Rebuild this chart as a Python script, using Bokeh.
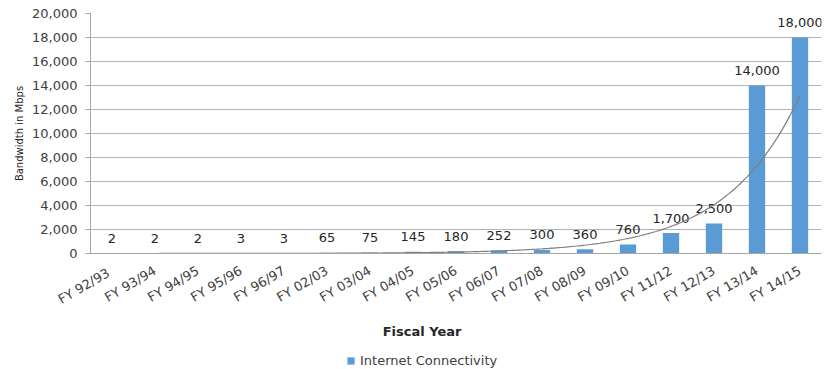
import numpy as np
from bokeh.plotting import figure
from bokeh.layouts import column
from bokeh.models import ColumnDataSource, NumeralTickFormatter, Legend, LegendItem, FactorRange, FixedTicker, Range1d
from bokeh.core.properties import value
from bokeh.embed import file_html
from bokeh.resources import INLINE

years = ["FY  92/93", "FY 93/94", "FY 94/95", "FY 95/96", "FY 96/97", "FY 02/03",
         "FY 03/04", "FY 04/05", "FY 05/06", "FY 06/07", "FY 07/08", "FY 08/09",
         "FY 09/10", "FY 11/12", "FY 12/13", "FY 13/14", "FY 14/15"]
bandwidth = [2, 2, 2, 3, 3, 65, 75, 145, 180, 252, 300, 360, 760, 1700, 2500, 14000, 18000]
value_labels = ["2", "2", "2", "3", "3", "65", "75", "145", "180", "252", "300", "360",
                "760", "1,700", "2,500", "14,000", "18,000"]
y_ticks = [0, 2000, 4000, 6000, 8000, 10000, 12000, 14000, 16000, 18000, 20000]

FONT = "DejaVu Sans"
TXT = "#404040"
BAR = "#5B9BD5"

src = ColumnDataSource(dict(year=years, bw=bandwidth, lab=value_labels))

p = figure(frame_width=731, frame_height=240, x_range=FactorRange(*years, range_padding=0),
           y_range=(0, 20000), output_backend="svg", toolbar_location=None,
           min_border_left=90, min_border_right=14, min_border_top=13, min_border_bottom=92)
p.outline_line_color = None
p.background_fill_color = "white"

bars = p.vbar(x="year", top="bw", width=0.38, source=src, fill_color=BAR, line_color=None)

p.text(x="year", y="bw", text="lab", source=src, text_align="center", text_baseline="middle",
       y_offset=-15, text_font=value(FONT), text_font_size="13px", text_color="#262626")

# exponential trendline fitted to the data (as in the spreadsheet chart)
idx = np.arange(1, len(bandwidth) + 1)
slope, intercept = np.polyfit(idx, np.log(bandwidth), 1)
xs = np.linspace(1, len(bandwidth), 300)
p.line(xs - 0.5, np.exp(intercept + slope * xs), line_color="#7F7F7F", line_width=1.2)

p.yaxis.ticker = FixedTicker(ticks=y_ticks)
p.yaxis.formatter = NumeralTickFormatter(format="0,0")
p.yaxis.major_label_text_font = FONT
p.yaxis.major_label_text_font_size = "13px"
p.yaxis.major_label_text_color = TXT
p.yaxis.major_tick_out = 5
p.yaxis.major_tick_in = 0
p.yaxis.minor_tick_out = 0
p.yaxis.minor_tick_in = 0
p.yaxis.major_label_standoff = 8
p.yaxis.axis_line_color = "#A6A6A6"
p.yaxis.major_tick_line_color = "#A6A6A6"
p.yaxis.axis_label = "Bandwidth in Mbps"
p.yaxis.axis_label_text_font = FONT
p.yaxis.axis_label_text_font_size = "10px"
p.yaxis.axis_label_text_font_style = "normal"
p.yaxis.axis_label_text_color = "#262626"
p.yaxis.axis_label_standoff = 4

p.xaxis.major_label_orientation = 0.53
p.xaxis.major_label_text_font = FONT
p.xaxis.major_label_text_font_size = "13px"
p.xaxis.major_label_text_color = TXT
p.xaxis.major_tick_out = 0
p.xaxis.major_tick_in = 0
p.xaxis.major_label_standoff = 16
p.xaxis.axis_line_color = "#A6A6A6"
p.xaxis.axis_label = "Fiscal  Year" + "\u00a0" * 14
p.xaxis.axis_label_text_font = FONT
p.xaxis.axis_label_text_font_size = "13px"
p.xaxis.axis_label_text_font_style = "bold"
p.xaxis.axis_label_text_color = "#262626"
p.xaxis.axis_label_standoff = 8

p.xgrid.grid_line_color = None
p.ygrid.grid_line_color = "#B3B3B3"
p.ygrid.grid_line_width = 1

# legend strip below the chart (swatch renderer kept outside its visible range)
leg = figure(width=835, height=24, output_backend="svg", toolbar_location=None,
             x_axis_type=None, y_axis_type=None, x_range=Range1d(0, 1), y_range=Range1d(0, 1),
             min_border_left=0, min_border_right=0, min_border_top=0, min_border_bottom=0)
leg.outline_line_color = None
leg.xgrid.grid_line_color = None
leg.ygrid.grid_line_color = None
swatch = leg.vbar(x="x", top="top", width=0.1, source=ColumnDataSource(dict(x=[-10], top=[0])),
                  fill_color=BAR, line_color=None)
legend = Legend(items=[LegendItem(label="Internet Connectivity", renderers=[swatch])],
                location=(256, 1), orientation="horizontal",
                label_text_font=FONT, label_text_font_size="13px", label_text_color=TXT,
                glyph_width=9, glyph_height=9, border_line_color=None,
                background_fill_alpha=0, padding=2, margin=0, spacing=4, label_standoff=5)
leg.add_layout(legend, "center")

layout = column(p, leg, spacing=0)
open("out.html", "w").write(file_html(layout, INLINE))
